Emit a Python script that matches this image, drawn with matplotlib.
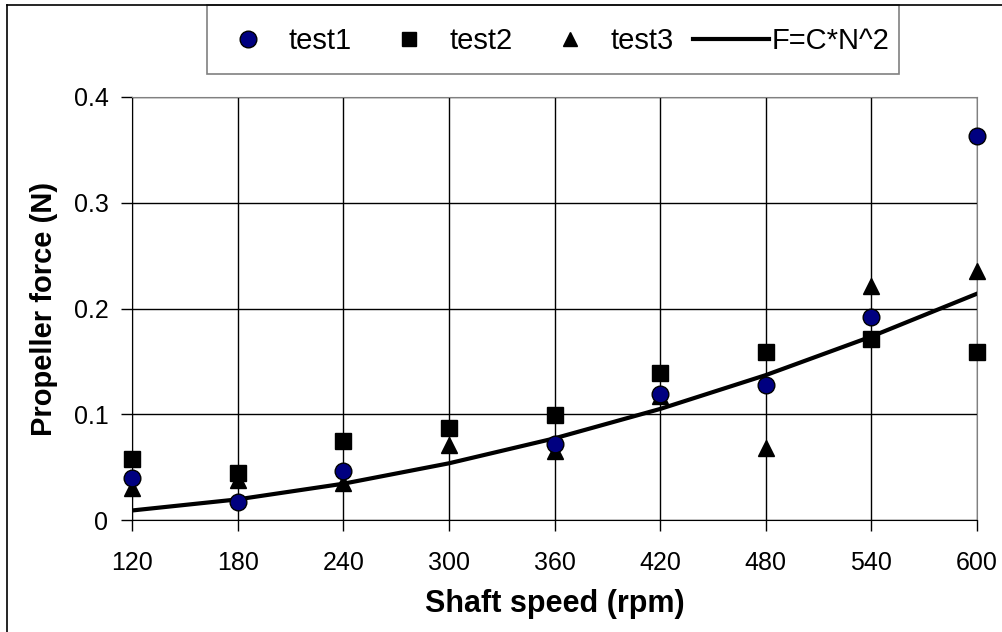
import matplotlib.pyplot as plt
from matplotlib.lines import Line2D
from matplotlib.patches import Rectangle

plt.rcParams['font.family'] = ['Liberation Sans', 'DejaVu Sans']

# 読み取ったデータ
speed = [120, 180, 240, 300, 360, 420, 480, 540, 600]
test1 = [0.040, 0.017, 0.046, None, 0.072, 0.119, 0.128, 0.192, 0.363]
test2 = [0.058, 0.044, 0.075, 0.087, 0.099, 0.139, 0.159, 0.171, 0.159]
test3 = [0.030, 0.038, 0.035, 0.071, 0.065, 0.117, 0.068, 0.221, 0.235]
fit = [0.0090, 0.0195, 0.0343, 0.0536, 0.0772, 0.1050, 0.1370, 0.1735, 0.2140]
xticks = [120, 180, 240, 300, 360, 420, 480, 540, 600]
yticks = [0, 0.1, 0.2, 0.3, 0.4]

W, H = 1002, 632
fig = plt.figure(figsize=(W / 100, H / 100), dpi=100)
ax = fig.add_axes([132 / W, 1 - 520 / H, 845 / W, 423 / H])

# 外枠
fig.add_artist(Line2D([7 / W, 7 / W], [0, 1 - 5 / H], color='black', lw=1.2, transform=fig.transFigure))
fig.add_artist(Line2D([7 / W, 1], [1 - 5 / H, 1 - 5 / H], color='black', lw=1.2, transform=fig.transFigure))

ax.plot(speed, fit, color='black', lw=3, zorder=2)
x1 = [s for s, v in zip(speed, test1) if v is not None]
y1 = [v for v in test1 if v is not None]
ax.plot(x1, y1, 'o', ms=12, mfc='#000080', mec='black', mew=1, zorder=5, clip_on=False)
ax.plot(speed, test2, 's', ms=11.5, color='black', zorder=4, clip_on=False)
ax.plot(speed, test3, '^', ms=12, color='black', zorder=3, clip_on=False)

ax.set_xlim(120, 600)
ax.set_ylim(0, 0.4)
ax.set_xticks(xticks)
ax.set_yticks(yticks)
ax.set_yticklabels(['0', '0.1', '0.2', '0.3', '0.4'])
ax.grid(True, color='black', lw=1)
ax.set_axisbelow(True)
ax.tick_params(labelsize=18, length=8, width=1, direction='out')
ax.tick_params(axis='x', pad=14)
ax.tick_params(axis='y', pad=9)
for s in ['top', 'right']:
    ax.spines[s].set_color('#808080')
ax.set_xlabel('Shaft speed (rpm)', fontsize=22, fontweight='bold')
ax.set_ylabel('Propeller force (N)', fontsize=21, fontweight='bold')
ax.xaxis.set_label_coords(0.5, -0.162)
ax.yaxis.set_label_coords(-0.087, 0.5)

# 凡例の枠
fig.add_artist(Rectangle((207 / W, 1 - 74 / H), 692 / W, 69 / H, transform=fig.transFigure,
                         fill=False, edgecolor='#808080', lw=1.2))
handles = [
    Line2D([], [], marker='o', ls='none', ms=12, mfc='#000080', mec='black'),
    Line2D([], [], marker='s', ls='none', ms=10, color='black'),
    Line2D([], [], marker='^', ls='none', ms=10, color='black'),
    Line2D([], [], color='black', lw=3),
]
leg = fig.legend(handles, ['test1', 'test2', 'test3', 'F=C*N^2'], ncol=4,
                 loc='center left', bbox_to_anchor=(207 / W, 1 - 41 / H),
                 fontsize=21, frameon=False,
                 handlelength=2.6, handletextpad=0.1, columnspacing=0.65,
                 borderpad=0.1, borderaxespad=0)

fig.savefig('out.png', dpi=100)
